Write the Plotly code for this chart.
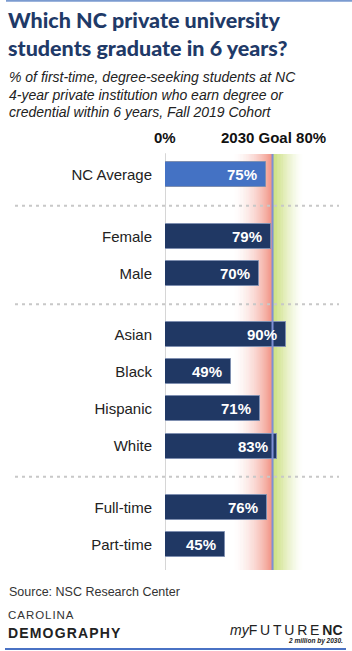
import plotly.graph_objects as go

# ---- data ----
categories = ["NC Average", "Female", "Male", "Asian", "Black", "Hispanic", "White", "Full-time", "Part-time"]
groups = [0, 1, 1, 2, 2, 2, 2, 3, 3]
values = [75, 79, 70, 90, 49, 71, 83, 76, 45]
goal = 80
bar_colors = ["#4472c4"] + ["#203864"] * 8

W, H = 352, 651
ML, MR, MT, MB = 165, 14, 154, 81
PW, PH = W - ML - MR, H - MT - MB
GAP = 0.655
# y positions from order + group gaps
ypos = [i + g * GAP for i, g in enumerate(groups)]
YMIN, YMAX = -0.566, ypos[-1] + 0.687
XMAX = PW / 1.344

def px2x(px):
    return (px - ML) / PW

def py2y(py):
    return (H - MB - py) / PH

fig = go.Figure()
fig.add_trace(go.Bar(
    x=values, y=ypos, orientation="h", width=0.674,
    marker=dict(color=bar_colors, line=dict(color="#7f8fb0", width=1)),
    hoverinfo="skip", showlegend=False,
))

shapes = []
# red gradient (white -> salmon) up to goal
N = 40
r0, r1 = 50.0, goal - 0.4
for k in range(N):
    a = r0 + (r1 - r0) * k / N
    b = r0 + (r1 - r0) * (k + 1) / N
    t = (k + 1) / N
    shapes.append(dict(type="rect", xref="x", yref="paper", x0=a, x1=b, y0=0, y1=1,
                       fillcolor="rgba(240,135,120,%.3f)" % (0.9 * t ** 1.8), line=dict(width=0), layer="below"))
# green gradient (yellow-green -> white) after goal
g0, g1 = goal + 0.4, 103.0
for k in range(N):
    a = g0 + (g1 - g0) * k / N
    b = g0 + (g1 - g0) * (k + 1) / N
    t = 1 - k / N
    shapes.append(dict(type="rect", xref="x", yref="paper", x0=a, x1=b, y0=0, y1=1,
                       fillcolor="rgba(185,212,80,%.3f)" % (0.9 * t ** 1.6), line=dict(width=0), layer="below"))
# zero axis line
shapes.append(dict(type="line", xref="x", yref="paper", x0=0, x1=0, y0=0, y1=1.002,
                   line=dict(color="#c8c8c8", width=1.5), layer="below"))
# goal line
shapes.append(dict(type="line", xref="x", yref="paper", x0=goal, x1=goal, y0=0, y1=1,
                   line=dict(color="#7d8fd4", width=2), layer="above"))
# dotted group separators
for i in range(1, len(ypos)):
    if groups[i] != groups[i - 1]:
        ym = (ypos[i] + ypos[i - 1]) / 2
        shapes.append(dict(type="line", xref="paper", yref="y", x0=px2x(15), x1=px2x(339), y0=ym, y1=ym,
                           line=dict(color="#c8c8c8", width=2, dash="3px,4px"), layer="above"))
# top and bottom rules
shapes.append(dict(type="line", xref="paper", yref="paper", x0=px2x(6), x1=px2x(352), y0=py2y(0.8), y1=py2y(0.8),
                   line=dict(color="#7b9bd0", width=2)))
shapes.append(dict(type="line", xref="paper", yref="paper", x0=px2x(5), x1=px2x(346), y0=py2y(649), y1=py2y(649),
                   line=dict(color="#4a72c4", width=2)))

ann = []
# value labels
for v, y in zip(values, ypos):
    ann.append(dict(x=v, y=y, xref="x", yref="y", text="%d%%" % v, showarrow=False,
                    xanchor="right", yanchor="middle", xshift=-7,
                    font=dict(family="Liberation Sans, Arial", size=15, color="white", weight="bold")))

def txt(px, py, text, size, color="#222222", xanchor="left", bold=False, italic=False,
        family="Liberation Sans, Arial", weight=None, align="left"):
    w = weight if weight is not None else ("bold" if bold else "normal")
    ann.append(dict(x=px2x(px), y=py2y(py), xref="paper", yref="paper", text=text, showarrow=False,
                    xanchor=xanchor, yanchor="middle", align=align,
                    font=dict(family=family, size=size, color=color, weight=w,
                              style="italic" if italic else "normal")))

# title (one text block, two lines)
tfam = "Lato, Open Sans"
txt(6, 33.5, "Which NC private university<br>students graduate in 6 years?", 21.5, "#1f3a68",
    family=tfam, weight=900)
# subtitle
txt(7, 77, "% of first-time, degree-seeking students at NC", 14, italic=True)
txt(7, 95, "4-year private institution who earn degree or", 14, italic=True)
txt(7, 112, "credential within 6 years, Fall 2019 Cohort", 14, italic=True)
# column headers
txt(165, 137, "0%", 15, "#111111", xanchor="center", bold=True)
txt(273, 137, "2030 Goal 80%", 15, "#111111", xanchor="center", bold=True)
# source
txt(7, 592, "Source: NSC Research Center", 12.5, "#333333")
# logos (as text)
txt(6, 615, "C\u200aA\u200aR\u200aO\u200aL\u200aI\u200aN\u200aA", 11.5, "#333333")
txt(6, 633, "D\u200aE\u200aM\u200aO\u200aG\u200aR\u200aA\u200aP\u200aH\u200aY", 14, "#222222", bold=True)
txt(345, 630, "<i>my</i>F\u2009U\u2009T\u2009U\u2009R\u2009E\u2009<b>NC</b>", 14, "#222222", xanchor="right")
txt(345, 641, "<b><i>2 million by 2030.</i></b>", 6.5, "#222222", xanchor="right")

fig.update_layout(
    width=W, height=H, autosize=False,
    margin=dict(l=ML, r=MR, t=MT, b=MB),
    paper_bgcolor="white", plot_bgcolor="rgba(0,0,0,0)",
    xaxis=dict(range=[0, XMAX], showgrid=False, zeroline=False, showticklabels=False, showline=False, fixedrange=True),
    yaxis=dict(range=[YMAX, YMIN], tickmode="array", tickvals=ypos, ticktext=categories,
               showgrid=False, zeroline=False, showline=False, ticks="", ticklabelstandoff=12,
               tickfont=dict(family="Liberation Sans, Arial", size=15, color="#222222"), fixedrange=True),
    shapes=shapes, annotations=ann, bargap=0,
)

fig.write_html("out.html")
